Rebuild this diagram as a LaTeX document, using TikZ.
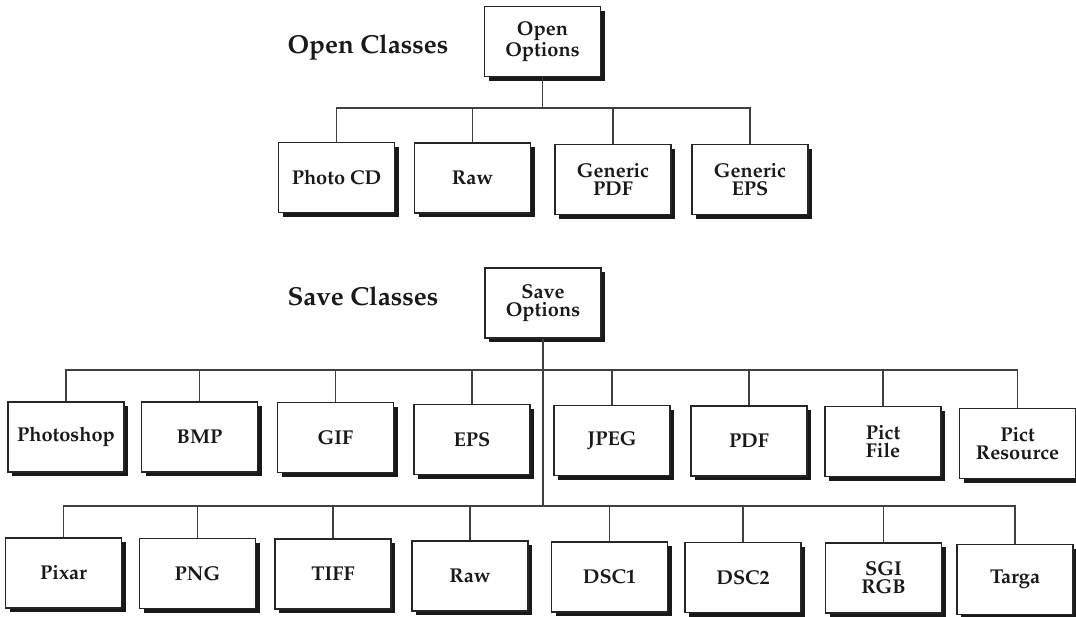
\documentclass[tikz,border=0pt]{standalone}
\usepackage[T1]{fontenc}
\usepackage{mathpazo}
\usepackage{tikz}
\usetikzlibrary{shadows}

\tikzset{
  optbox/.style={draw=black!85, line width=1.1pt, fill=white, minimum width=116pt, minimum height=70pt,
    inner sep=0pt, align=center, text=black!90, font=\fontsize{20}{18}\selectfont\bfseries,
    drop shadow={shadow xshift=4pt, shadow yshift=-4pt, fill=black!90, opacity=1}},
  classtitle/.style={text=black!90, font=\fontsize{26}{30}\selectfont\bfseries},
  wire/.style={draw=black!75, line width=1.1pt}
}

\begin{document}
\begin{tikzpicture}[x=1pt, y=-1pt]
			\useasboundingbox (0,0) rectangle (1076,616);
			
			% open classes
			\node[classtitle] (otitle) at (368,47) {Open Classes};
			\node[optbox] (oopt) at (542.5,41.5) {Open\\Options};
			\node[optbox] (photocd) at (336.5,177.5) {Photo CD};
			\node[optbox] (oraw) at (472.5,178) {Raw};
			\node[optbox] (gpdf) at (613,179.5) {Generic\\PDF};
			\node[optbox] (geps) at (750,179.5) {Generic\\EPS};
			\coordinate (obar) at (542.5,108);
			\draw[wire] (oopt.south) -- (obar);
			\foreach \n in {photocd, oraw, gpdf, geps}
				\draw[wire] (obar) -| (\n.north);
			
			% save classes
			\node[classtitle] (stitle) at (363,296) {Save Classes};
			\node[optbox] (sopt) at (543,303) {Save\\Options};
			\node[optbox] (pshop) at (66,437) {Photoshop};
			\node[optbox] (bmp) at (199.5,437) {BMP};
			\node[optbox] (gif) at (335.5,437.5) {GIF};
			\node[optbox] (eps) at (472,439.5) {EPS};
			\node[optbox] (jpeg) at (612,440.5) {JPEG};
			\node[optbox] (pdf) at (749,441) {PDF};
			\node[optbox] (pfile) at (883,441.5) {Pict\\File};
			\node[optbox] (pres) at (1017.5,443.5) {Pict\\Resource};
			
			\node[optbox] (pixar) at (63.5,573) {Pixar};
			\node[optbox] (png) at (197.5,573.5) {PNG};
			\node[optbox] (tiff) at (333,574) {TIFF};
			\node[optbox] (sraw) at (470,576) {Raw};
			\node[optbox] (dsc1) at (609.5,577) {DSC1};
			\node[optbox] (dsc2) at (743,577.5) {DSC2};
			\node[optbox] (sgi) at (883.5,578) {SGI\\RGB};
			\node[optbox] (targa) at (1015,579.5) {Targa};
			
			\coordinate (sbar) at (543,370);
			\coordinate (tbar) at (543,506);
			\draw[wire] (sopt.south) -- (tbar);
			\foreach \n in {pshop, bmp, gif, eps, jpeg, pdf, pfile, pres}
				\draw[wire] (sbar) -| (\n.north);
			\foreach \n in {pixar, png, tiff, sraw, dsc1, dsc2, sgi, targa}
				\draw[wire] (tbar) -| (\n.north);
			
\end{tikzpicture}
\end{document}
